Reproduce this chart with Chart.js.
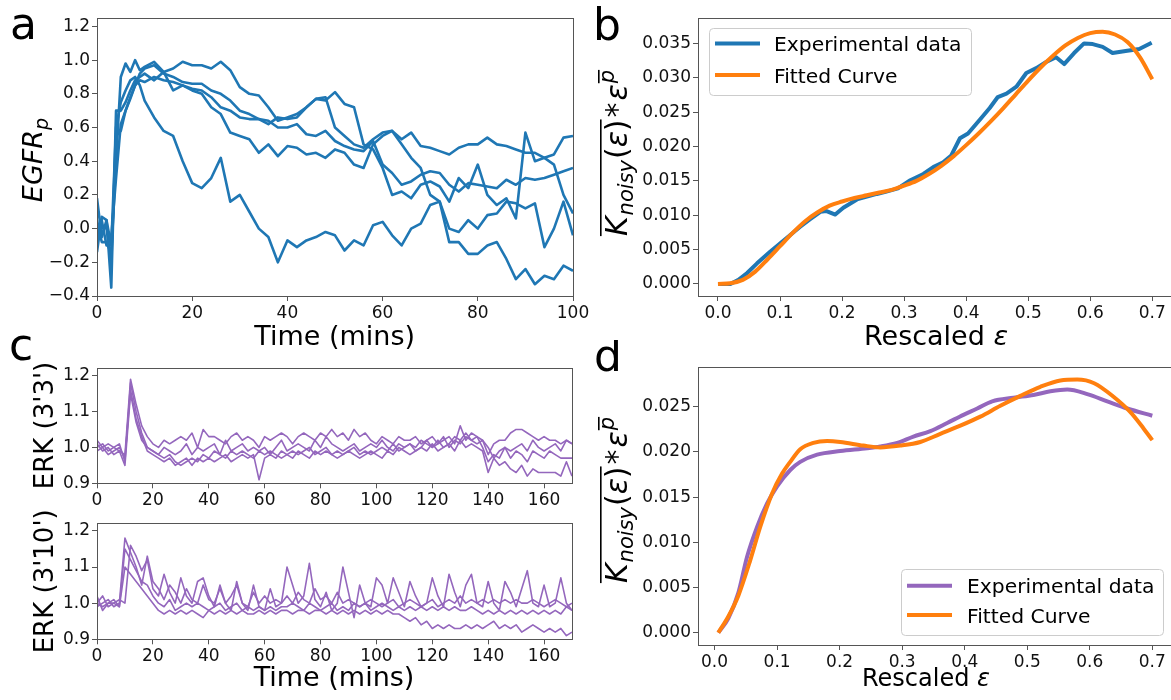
<!DOCTYPE html>
<html><head><meta charset="utf-8">
<script src="https://cdn.jsdelivr.net/npm/chart.js@4.4.1/dist/chart.umd.min.js"></script>
<style>
html,body{margin:0;padding:0;background:#fff;}
#wrap{position:relative;width:1171px;height:700px;overflow:hidden;background:#fff;}
canvas{position:absolute;}
</style></head><body>
<div id="wrap">
<canvas id="ca" style="left:0px;top:0px" width="600" height="350"></canvas>
<canvas id="cb" style="left:590px;top:0px" width="600" height="350"></canvas>
<canvas id="cc1" style="left:0px;top:320px" width="600" height="190"></canvas>
<canvas id="cc2" style="left:0px;top:500px" width="600" height="200"></canvas>
<canvas id="cd" style="left:590px;top:340px" width="600" height="360"></canvas>
</div>
<script>
// ---------- Panel a : EGFR_p time courses ----------
const T_A = [0,1,2,3,4,5,6,7,8,9,10,12,14,16,18,20,22,24,26,28,30,32,34,36,38,40,42,44,46,48,50,52,54,56,58,60,62,64,66,68,70,72,74,76,78,80,82,84,86,88,90,92,94,96,98,100];
const EGFR_1 = [0.18,-0.05,0.05,-0.10,0.60,0.75,0.82,0.88,0.90,0.85,0.76,
  0.66,0.58,0.55,0.40,0.27,0.24,0.30,0.42,0.16,0.20,
  0.10,0.00,-0.05,-0.20,-0.07,-0.11,-0.07,-0.05,-0.02,-0.04,
  -0.13,-0.07,-0.10,0.02,0.04,-0.04,-0.10,0.00,0.03,0.14,
  0.16,-0.08,-0.08,-0.15,-0.15,-0.10,-0.08,-0.18,-0.30,-0.24,
  -0.33,-0.28,-0.30,-0.22,-0.25];
const EGFR_2 = [-0.14,0.07,0.05,-0.35,0.70,0.70,0.75,0.82,0.88,0.90,0.92,
  0.88,0.93,0.95,0.99,0.97,0.97,0.95,0.99,0.94,0.84,
  0.80,0.79,0.72,0.64,0.66,0.68,0.72,0.77,0.76,0.81,
  0.74,0.72,0.50,0.47,0.36,0.20,0.22,0.18,0.26,0.28,
  0.25,0.16,0.30,0.24,0.38,0.20,0.14,0.18,0.06,0.57,
  0.40,0.42,0.38,0.20,0.09];
const EGFR_3 = [0.05,-0.08,-0.08,-0.15,0.40,0.90,0.98,0.93,1.00,0.94,0.96,
  0.99,0.93,0.82,0.85,0.82,0.80,0.72,0.68,0.57,0.55,
  0.53,0.45,0.50,0.43,0.49,0.48,0.44,0.45,0.42,0.47,
  0.45,0.38,0.36,0.50,0.55,0.58,0.53,0.57,0.49,0.48,
  0.46,0.44,0.48,0.50,0.50,0.54,0.50,0.49,0.47,0.45,
  0.45,0.42,0.44,0.54,0.55];
const EGFR_4 = [0.00,0.05,-0.10,-0.05,0.30,0.62,0.70,0.78,0.85,0.92,0.95,
  0.97,0.92,0.90,0.87,0.86,0.86,0.82,0.80,0.76,0.70,
  0.68,0.65,0.64,0.60,0.60,0.62,0.56,0.55,0.58,0.52,
  0.49,0.47,0.46,0.52,0.38,0.33,0.26,0.28,0.32,0.34,
  0.33,0.26,0.22,0.27,0.26,0.25,0.24,0.29,0.26,0.30,
  0.29,0.30,0.32,0.34,0.36];
const EGFR_5 = [-0.05,0.02,0.00,-0.20,0.55,0.58,0.70,0.77,0.85,0.88,0.87,
  0.90,0.88,0.87,0.85,0.83,0.82,0.78,0.72,0.70,0.66,
  0.65,0.65,0.62,0.66,0.65,0.66,0.72,0.77,0.78,0.60,
  0.55,0.50,0.48,0.53,0.57,0.58,0.50,0.42,0.36,0.20,
  0.16,0.00,-0.02,0.05,0.00,0.08,0.09,0.16,0.15,0.12,
  0.15,-0.11,0.00,0.16,-0.04];
const A_XTICKS = [0,20,40,60,80,100];
const A_YTICKS = [-0.4,-0.2,0.0,0.2,0.4,0.6,0.8,1.0,1.2];

// ---------- Panel b ----------
const B_EXP_X = [0.0,0.02,0.033,0.047,0.063,0.084,0.1,0.116,0.132,0.148,0.165,0.175,0.189,0.202,0.224,0.24,0.256,0.27,0.29,0.31,0.331,0.347,0.363,0.376,0.39,0.403,0.422,0.438,0.451,0.465,0.481,0.497,0.513,0.529,0.545,0.558,0.574,0.59,0.604,0.62,0.636,0.657,0.679,0.699];
const B_EXP = [0.0,0.0,0.0006,0.0016,0.003,0.0047,0.0059,0.0071,0.0083,0.0094,0.0105,0.0106,0.0101,0.0111,0.0123,0.0127,0.0131,0.0134,0.0139,0.0151,0.0160,0.0170,0.0177,0.0187,0.0212,0.0219,0.0239,0.0256,0.0272,0.0277,0.0287,0.0307,0.0314,0.0323,0.0330,0.0320,0.0336,0.0350,0.0349,0.0345,0.0336,0.0339,0.0342,0.0351];
const B_FIT_X = [0.0,0.02,0.04,0.06,0.08,0.10,0.12,0.14,0.16,0.18,0.20,0.22,0.24,0.26,0.28,0.30,0.32,0.34,0.36,0.38,0.40,0.42,0.44,0.46,0.48,0.50,0.52,0.54,0.56,0.58,0.60,0.62,0.64,0.66,0.68,0.70];
const B_FIT = [0.0,0.0001,0.0006,0.0018,0.0036,0.0055,0.0074,0.0091,0.0104,0.0114,0.0120,0.0125,0.0129,0.0133,0.0137,0.0143,0.0150,0.0160,0.0172,0.0186,0.0202,0.0219,0.0237,0.0256,0.0276,0.0296,0.0315,0.0332,0.0347,0.0358,0.0365,0.0367,0.0363,0.0352,0.0330,0.0298];
const B_XTICKS = [0.0,0.1,0.2,0.3,0.4,0.5,0.6,0.7];
const B_YTICKS = [0.0,0.005,0.010,0.015,0.020,0.025,0.030,0.035];

// ---------- Panel c : ERK ----------
const T_C = [0,2,4,6,8,10,12,14,16,18,20,22,24,26,28,30,32,34,36,38,40,42,44,46,48,50,52,54,56,58,60,62,64,66,68,70,72,74,76,78,80,82,84,86,88,90,92,94,96,98,100,102,104,106,108,110,112,114,116,118,120,122,124,126,128,130,132,134,136,138,140,142,144,146,148,150,152,154,156,158,160,162,164,166,168,170];
const ERK33_1 = [1.02,1.00,1.01,1.00,0.99,0.98,1.19,1.12,1.06,1.03,
  1.01,1.00,1.02,1.01,1.02,1.03,1.02,1.04,1.00,1.05,
  1.03,1.03,1.02,1.01,1.03,1.04,1.02,1.03,1.02,1.00,
  1.03,1.02,1.03,1.04,1.03,1.01,1.03,1.04,1.03,1.02,
  1.04,1.03,1.05,1.03,1.04,1.02,1.05,1.03,1.04,1.02,
  1.01,1.03,1.02,1.01,1.03,1.02,1.02,1.03,1.01,1.02,
  1.03,1.01,1.02,1.03,1.01,1.06,1.02,1.04,1.03,1.02,
  0.98,1.01,1.02,1.02,1.04,1.05,1.05,1.04,1.03,1.02,
  1.03,1.02,1.02,1.01,1.02,1.01];
const ERK33_2 = [1.00,1.01,0.99,1.00,1.01,0.96,1.18,1.10,1.04,1.00,
  0.99,0.98,1.00,0.99,0.98,0.99,1.01,0.98,1.00,0.99,
  1.00,1.01,0.98,1.02,0.99,1.00,1.01,0.99,1.00,0.99,
  1.00,0.98,1.00,1.02,0.99,1.00,1.01,1.00,0.99,1.02,
  1.00,1.03,1.01,1.00,0.99,1.00,1.01,0.99,1.00,1.01,
  1.00,1.02,1.00,0.99,1.01,1.00,1.01,1.00,1.02,1.01,
  1.00,1.02,1.00,1.01,1.03,1.02,1.04,1.02,1.03,1.00,
  0.96,0.98,0.97,1.00,0.99,1.00,1.01,0.99,1.02,1.00,
  0.99,1.00,1.01,0.99,1.02,1.01];
const ERK33_3 = [0.99,1.00,0.98,0.99,1.00,0.97,1.16,1.08,1.03,0.99,
  0.98,0.97,0.96,0.97,0.95,0.96,0.97,0.95,0.97,0.96,
  0.97,0.96,0.97,0.98,0.96,0.97,0.98,0.97,0.98,0.91,
  0.97,0.98,0.97,0.99,0.98,0.97,0.99,0.98,0.97,0.99,
  0.98,0.99,0.98,0.97,0.98,0.99,0.98,0.97,0.98,0.99,
  0.98,0.97,0.99,0.98,1.00,0.99,0.98,0.99,1.00,0.99,
  1.01,0.99,1.00,1.01,0.99,1.02,1.00,1.01,1.00,0.99,
  0.93,0.97,0.95,0.96,0.94,0.93,0.95,0.92,0.94,0.93,
  0.93,0.93,0.93,0.92,0.96,0.92];
const ERK33_4 = [1.01,0.99,1.00,0.98,0.99,0.95,1.15,1.07,1.02,1.00,
  0.99,0.98,0.97,0.98,0.96,0.95,0.96,0.97,0.96,0.98,
  0.97,0.99,0.98,0.97,0.99,0.98,0.99,0.98,0.97,0.99,
  0.98,0.99,0.98,0.97,0.98,0.99,0.98,0.99,1.00,0.98,
  0.99,1.00,0.98,0.99,0.98,0.99,1.00,0.98,0.99,0.98,
  0.99,1.00,0.99,1.01,0.99,1.00,1.01,0.99,1.00,1.02,
  1.00,1.01,1.03,1.00,1.02,1.01,1.03,1.02,1.01,1.02,
  1.00,0.97,0.99,1.00,0.97,0.99,0.98,0.96,0.99,0.98,
  0.97,0.99,0.98,0.97,0.97,0.97];
const ERK310_1 = [1.00,1.02,0.99,1.00,1.01,1.00,1.16,1.13,1.09,1.12,
  1.04,1.02,1.08,1.03,1.00,1.07,1.02,1.00,1.06,1.07,
  1.02,0.99,1.05,1.00,0.98,1.06,1.00,0.98,1.05,0.99,
  0.98,1.04,0.99,1.00,1.10,1.05,1.00,1.02,1.11,1.01,
  0.99,1.03,0.98,1.00,1.10,1.03,0.96,1.05,1.00,0.99,
  1.07,1.05,1.00,1.07,1.03,0.99,1.06,1.02,0.99,1.00,
  1.07,1.02,0.99,1.08,1.03,0.99,1.05,1.08,1.00,0.99,
  1.06,1.00,0.98,1.06,1.03,0.99,1.04,1.09,1.00,0.99,
  1.05,0.99,1.00,1.07,1.00,0.98];
const ERK310_2 = [0.99,1.00,1.01,0.99,1.00,1.18,1.14,1.10,1.05,1.13,
  1.06,1.04,1.01,1.05,1.03,1.00,1.04,1.01,1.00,1.05,
  1.01,1.00,1.04,1.00,1.02,1.05,1.00,0.99,1.03,1.00,
  1.02,1.00,1.01,1.00,1.02,1.00,1.03,1.01,1.00,1.04,
  1.01,1.02,1.00,1.03,1.00,1.01,1.00,0.99,1.00,1.01,
  1.00,0.99,1.00,1.01,0.99,1.00,1.01,1.00,0.99,1.00,
  1.01,0.99,1.00,1.01,1.00,1.02,1.00,1.01,1.00,1.01,
  1.00,1.01,1.00,1.01,1.00,1.01,1.00,1.00,1.01,1.00,
  0.99,1.00,1.01,1.00,0.99,1.00];
const ERK310_3 = [1.02,0.98,1.00,1.01,0.99,1.15,1.12,1.09,1.06,1.05,
  1.02,1.00,0.99,1.01,0.98,0.99,1.00,0.99,1.00,0.99,
  0.98,0.99,1.00,0.98,0.99,1.00,0.98,0.99,0.98,0.99,
  0.98,0.99,0.98,0.99,0.99,1.00,0.99,0.98,1.00,0.99,
  0.98,0.99,1.00,0.98,0.99,0.98,1.00,0.99,1.00,0.98,
  0.99,1.00,0.99,0.98,0.99,0.98,0.99,0.98,0.99,0.98,
  0.99,0.98,0.99,0.98,0.99,0.98,0.98,0.99,0.98,0.97,
  0.98,0.97,0.98,0.97,0.98,0.97,0.98,0.97,0.98,0.97,
  0.98,0.97,0.98,0.97,0.99,0.98];
const ERK310_4 = [1.00,0.99,1.00,1.00,0.99,1.10,1.08,1.06,1.04,1.02,
  1.00,0.98,0.97,0.98,0.97,0.98,0.97,0.98,0.97,0.96,
  0.98,0.97,0.98,0.97,0.98,0.97,0.98,0.97,0.97,0.98,
  0.97,0.98,0.97,0.98,0.98,0.97,0.98,0.98,0.97,0.98,
  0.98,0.97,0.98,0.97,0.98,0.97,0.98,0.97,0.98,0.97,
  0.98,0.97,0.98,0.97,0.97,0.96,0.95,0.96,0.94,0.95,
  0.93,0.94,0.93,0.94,0.93,0.93,0.94,0.93,0.94,0.93,
  0.94,0.95,0.93,0.94,0.93,0.94,0.92,0.93,0.94,0.93,
  0.92,0.93,0.92,0.93,0.91,0.92];
const C_XTICKS = [0,20,40,60,80,100,120,140,160];
const C_YTICKS = [0.9,1.0,1.1,1.2];

// ---------- Panel d ----------
const D_EXP_X = [0.006,0.022,0.038,0.052,0.068,0.084,0.1,0.121,0.137,0.164,0.201,0.244,0.265,0.292,0.318,0.345,0.372,0.398,0.42,0.444,0.478,0.51,0.537,0.564,0.596,0.628,0.66,0.70];
const D_EXP = [0.0,0.0016,0.0044,0.0084,0.0117,0.0143,0.0162,0.0180,0.0189,0.0197,0.0201,0.0204,0.0206,0.0210,0.0217,0.0223,0.0232,0.0241,0.0248,0.0256,0.0260,0.0263,0.0267,0.0269,0.0264,0.0256,0.0248,0.0240];
const D_FIT_X = [0.006,0.022,0.038,0.057,0.073,0.092,0.108,0.121,0.137,0.158,0.18,0.201,0.238,0.265,0.297,0.329,0.361,0.393,0.425,0.457,0.489,0.521,0.553,0.58,0.607,0.638,0.665,0.686,0.70];
const D_FIT = [0.0,0.0018,0.0041,0.0080,0.0117,0.0154,0.0176,0.0189,0.0203,0.0210,0.0212,0.0211,0.0207,0.0205,0.0207,0.0211,0.0220,0.0229,0.0239,0.0251,0.0262,0.0272,0.0279,0.0280,0.0276,0.0261,0.0244,0.0226,0.0213];
const D_XTICKS = [0.0,0.1,0.2,0.3,0.4,0.5,0.6,0.7];
const D_YTICKS = [0.0,0.005,0.010,0.015,0.020,0.025];

const LEGEND_LABELS = ['Experimental data','Fitted Curve'];

// ---------- styling ----------
const FAM = '"DejaVu Sans"';
const SPINE = '#555';
const BLUE = '#1f77b4', ORANGE = '#ff7f0e', PURPLE = '#9467bd';
const minus = s => s.replace('-', '\u2212');

function pts(xs, ys){ return ys.map((v,i)=>({x:xs[i], y:v})); }

function axisOpts(k, a){
  return {
    type:'linear', position: k==='x' ? 'bottom' : 'left', min:a.min, max:a.max,
    afterBuildTicks: s => { s.ticks = a.ticks.map(v=>({value:v})); },
    afterFit: s => { if (k==='x') s.height = a.size; else s.width = a.size; },
    ticks: { callback: a.fmt, font:{family:'DejaVu Sans', size:17}, color:'#111', padding:2,
             autoSkip:false, maxRotation:0, minRotation:0 },
    grid: { display:true, drawOnChartArea:false, drawTicks:true, tickLength:5, tickWidth:1, tickColor:SPINE, color:SPINE },
    border: { display:false }
  };
}

const DECOR = {};

function drawRich(ctx, it){
  ctx.save();
  ctx.translate(it.x, it.y);
  if (it.rot) ctx.rotate(it.rot);
  ctx.fillStyle = '#000';
  ctx.textBaseline = 'alphabetic';
  let w = 0;
  const m = it.segs.map(sg => {
    ctx.font = (sg.it ? 'italic ' : '') + sg.s + 'px ' + FAM;
    const x0 = w + (sg.pre||0);
    const ww = ctx.measureText(sg.t).width;
    w = x0 + ww + (sg.post||0);
    return {x0, w:ww};
  });
  const start = it.align === 'center' ? -w/2 : 0;
  it.segs.forEach((sg,i) => {
    ctx.font = (sg.it ? 'italic ' : '') + sg.s + 'px ' + FAM;
    ctx.fillText(sg.t, start + m[i].x0, sg.dy||0);
  });
  (it.bars||[]).forEach(b => {
    const x0 = start + m[b.a].x0 + (b.dx||0);
    const x1 = start + m[b.b].x0 + m[b.b].w + (b.dx||0);
    ctx.fillRect(x0, b.y, x1-x0, 1.6);
  });
  ctx.restore();
}

const decor = {
  id:'decor',
  afterDatasetsDraw(chart){
    const ctx = chart.ctx, a = chart.chartArea, o = DECOR[chart.canvas.id] || {};
    ctx.save();
    ctx.strokeStyle = SPINE; ctx.lineWidth = 1;
    const l = Math.round(a.left), t = Math.round(a.top), r = Math.round(a.right), b = Math.round(a.bottom);
    ctx.strokeRect(l+0.5, t+0.5, r-l, b-t);
    if (o.legend){
      const L = o.legend;
      ctx.fillStyle = 'rgba(255,255,255,0.8)';
      ctx.strokeStyle = '#cccccc';
      ctx.beginPath();
      ctx.roundRect(L.x+0.5, L.y+0.5, L.w, L.h, 4);
      ctx.fill(); ctx.stroke();
      chart.data.datasets.forEach((ds,i) => {
        const y = L.lineY[i];
        ctx.strokeStyle = ds.borderColor; ctx.lineWidth = 4; ctx.lineCap = 'butt';
        ctx.beginPath(); ctx.moveTo(L.lx0, y); ctx.lineTo(L.lx1, y); ctx.stroke();
        ctx.fillStyle = '#000'; ctx.font = L.size + 'px ' + FAM; ctx.textBaseline = 'alphabetic';
        ctx.fillText(ds.label, L.tx, y + L.base);
      });
    }
    ctx.restore();
  },
  afterDraw(chart){
    const o = DECOR[chart.canvas.id] || {};
    (o.labels||[]).forEach(it => drawRich(chart.ctx, it));
  }
};

function makeChart(id, datasets, pad, xa, ya){
  return new Chart(document.getElementById(id), {
    type:'line',
    data:{ datasets },
    options:{
      responsive:false, animation:false, devicePixelRatio:1,
      layout:{ padding: pad },
      plugins:{ legend:{display:false}, tooltip:{enabled:false} },
      scales:{ x: axisOpts('x', xa), y: axisOpts('y', ya) },
      elements:{ point:{radius:0}, line:{tension:0, borderJoinStyle:'round', borderCapStyle:'butt'} }
    },
    plugins:[decor]
  });
}

const fmt1 = v => minus(Number(v).toFixed(1));
const fmt0 = v => String(Math.round(v));
const fmt3 = v => Number(v).toFixed(3);
const HALF = -Math.PI/2;

const KLABEL = (x, y) => ({
  x, y, rot:HALF, align:'center',
  segs:[
    {t:'K', it:true, s:30},
    {t:'noisy', it:true, s:21, dy:6, pre:1},
    {t:'(', s:30, pre:1},
    {t:'\u03b5', it:true, s:30},
    {t:')', s:30},
    {t:'*', s:30, pre:2, post:2},
    {t:'\u03b5', it:true, s:30},
    {t:'p', it:true, s:21, dy:-13, pre:1}
  ],
  bars:[{a:0, b:4, y:-27}, {a:7, b:7, y:-29}]
});

// ---------- Panel a ----------
DECOR.ca = { labels:[
  {x:10, y:39, segs:[{t:'a', s:44}]},
  {x:334.7, y:345, align:'center', segs:[{t:'Time (mins)', s:27}]},
  {x:42, y:160, rot:HALF, align:'center', segs:[{t:'EGFR', it:true, s:27},{t:'p', it:true, s:19, dy:6}]}
]};
makeChart('ca', [EGFR_1,EGFR_2,EGFR_3,EGFR_4,EGFR_5].map((s,i)=>({
    label:'EGFR '+(i+1), data:pts(T_A, s), borderColor:BLUE, borderWidth:2.6, fill:false })),
  {left:0, top:18, right:27, bottom:0},
  {min:0, max:100, ticks:A_XTICKS, fmt:fmt0, size:54},
  {min:-0.4, max:1.25, ticks:A_YTICKS, fmt:fmt1, size:97});

// ---------- Panel b ----------
DECOR.cb = {
  labels:[
    {x:3, y:40, segs:[{t:'b', s:44}]},
    {x:346, y:345, align:'center', segs:[{t:'Rescaled ', s:27},{t:'\u03b5', it:true, s:27}]},
    KLABEL(37, 153)
  ],
  legend:{x:119, y:28, w:262, h:67, lx0:125, lx1:170, lineY:[43.5, 75], tx:184, base:7.7, size:20.3}
};
makeChart('cb', [
    {label:LEGEND_LABELS[0], data:pts(B_EXP_X, B_EXP), borderColor:BLUE, borderWidth:4, fill:false, order:1},
    {label:LEGEND_LABELS[1], data:pts(B_FIT_X, B_FIT), borderColor:ORANGE, borderWidth:4, fill:false, order:0, tension:0.4, cubicInterpolationMode:'monotone'}
  ],
  {left:0, top:18, right:16, bottom:0},
  {min:-0.0322, max:0.735, ticks:B_XTICKS, fmt:fmt1, size:54},
  {min:-0.00175, max:0.0387, ticks:B_YTICKS, fmt:fmt3, size:108});

// ---------- Panel c (top) ----------
DECOR.cc1 = { labels:[
  {x:9, y:40, segs:[{t:'c', s:44}]},
  {x:53, y:105.5, rot:HALF, align:'center', segs:[{t:"ERK (3'3')", s:26}]}
]};
makeChart('cc1', [ERK33_1,ERK33_2,ERK33_3,ERK33_4].map((s,i)=>({
    label:"ERK 3'3' "+(i+1), data:pts(T_C, s), borderColor:PURPLE, borderWidth:1.6, fill:false })),
  {left:0, top:47.7, right:28, bottom:0},
  {min:0, max:170, ticks:C_XTICKS, fmt:fmt0, size:26.7},
  {min:0.9, max:1.222, ticks:C_YTICKS, fmt:fmt1, size:97});

// ---------- Panel c (bottom) ----------
DECOR.cc2 = { labels:[
  {x:53, y:81.3, rot:HALF, align:'center', segs:[{t:"ERK (3'10')", s:26}]},
  {x:334, y:186, align:'center', segs:[{t:'Time (mins)', s:27}]}
]};
makeChart('cc2', [ERK310_1,ERK310_2,ERK310_3,ERK310_4].map((s,i)=>({
    label:"ERK 3'10' "+(i+1), data:pts(T_C, s), borderColor:PURPLE, borderWidth:1.6, fill:false })),
  {left:0, top:23.3, right:28, bottom:0},
  {min:0, max:170, ticks:C_XTICKS, fmt:fmt0, size:60.7},
  {min:0.9, max:1.221, ticks:C_YTICKS, fmt:fmt1, size:97});

// ---------- Panel d ----------
DECOR.cd = {
  labels:[
    {x:4, y:31, segs:[{t:'d', s:44}]},
    {x:336, y:346, align:'center', segs:[{t:'Rescaled ', s:24},{t:'\u03b5', it:true, s:24}]},
    KLABEL(37, 160)
  ],
  legend:{x:311, y:229, w:262, h:66, lx0:317, lx1:362, lineY:[245.7, 275], tx:377, base:7.7, size:20.3}
};
makeChart('cd', [
    {label:LEGEND_LABELS[0], data:pts(D_EXP_X, D_EXP), borderColor:PURPLE, borderWidth:4, fill:false, order:1, tension:0.3, cubicInterpolationMode:'monotone'},
    {label:LEGEND_LABELS[1], data:pts(D_FIT_X, D_FIT), borderColor:ORANGE, borderWidth:4, fill:false, order:0, tension:0.4, cubicInterpolationMode:'monotone'}
  ],
  {left:0, top:27.3, right:16, bottom:0},
  {min:-0.0265, max:0.7347, ticks:D_XTICKS, fmt:fmt1, size:55},
  {min:-0.00136, max:0.02936, ticks:D_YTICKS, fmt:fmt3, size:108});
</script>
</body></html>
